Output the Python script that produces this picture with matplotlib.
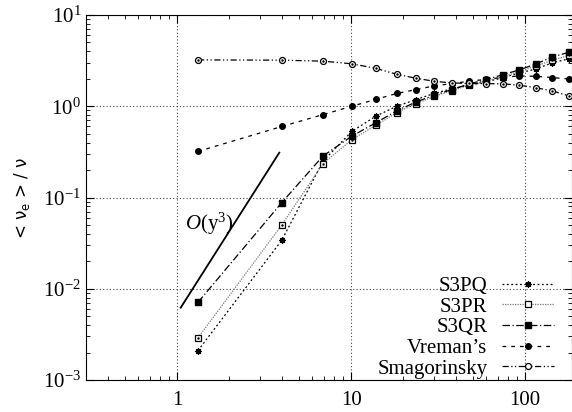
import numpy as np
import matplotlib
matplotlib.use("Agg")
from matplotlib import pyplot as plt
from matplotlib.ticker import LogLocator, NullFormatter

plt.rcParams['font.family'] = ['Liberation Serif', 'DejaVu Serif']
plt.rcParams['mathtext.fontset'] = 'custom'
plt.rcParams['mathtext.rm'] = 'Liberation Serif'
plt.rcParams['mathtext.it'] = 'Liberation Serif:italic'

# wall distance y+ (shared grid)
yplus = [1.32, 4.0, 6.9, 10.1, 13.9, 18.3, 23.5, 30, 37.8, 47.7, 59.4, 74.5, 92.5, 115, 143.6, 178]

s3pq = [0.0021, 0.034, 0.25, 0.53, 0.78, 1.0, 1.18, 1.38, 1.55, 1.70, 1.85, 2.05, 2.32, 2.55, 3.0, 3.3]
s3pr = [0.0029, 0.050, 0.235, 0.43, 0.62, 0.85, 1.07, 1.28, 1.48, 1.70, 1.90, 2.10, 2.40, 2.75, 3.2, 3.6]
s3qr = [0.0071, 0.088, 0.285, 0.47, 0.66, 0.89, 1.11, 1.32, 1.52, 1.76, 1.95, 2.22, 2.50, 2.90, 3.47, 3.9]
vreman = [0.32, 0.60, 0.81, 1.0, 1.19, 1.38, 1.52, 1.67, 1.77, 1.88, 1.97, 2.07, 2.15, 2.13, 2.06, 1.99]
smag = [3.22, 3.20, 3.12, 2.92, 2.60, 2.24, 2.03, 1.88, 1.80, 1.78, 1.77, 1.76, 1.70, 1.60, 1.47, 1.30]

# O(y^3) reference line
ref_x = [1.05, 3.87]
ref_y = [0.0062, 0.31]

fig = plt.figure(figsize=(5.72, 4.12), dpi=100)
ax = fig.add_axes([86 / 572, 32 / 412, 486 / 572, 365 / 412])
ax.set_xscale('log')
ax.set_yscale('log')
ax.set_xlim(0.3, 186)
ax.set_ylim(1e-3, 1e1)

ax.grid(True, which='major', linestyle=(0, (1, 2)), color='#444444', linewidth=0.8)
ax.set_axisbelow(True)

lw = 0.9
ax.plot(yplus, s3pq, color='black', linestyle=(0, (1.5, 2)), linewidth=lw,
        marker=(8, 2, 0), markersize=4.5, markeredgewidth=0.9, label='S3PQ')
ax.plot(yplus, s3pr, color='#777777', linestyle=(0, (1, 1)), linewidth=lw,
        marker='s', markersize=4.3, markerfacecolor='white', markeredgecolor='black',
        markeredgewidth=0.9, label='S3PR')
ax.plot(yplus, s3pr, linestyle='none', marker='.', markersize=1.5, color='black')
ax.plot(yplus, s3qr, color='black', linestyle=(0, (6, 2, 1, 2)), linewidth=lw,
        marker='s', markersize=4.6, label='S3QR')
ax.plot(yplus, vreman, color='black', linestyle=(0, (3, 4)), linewidth=lw,
        marker='o', markersize=4, label="Vreman\u2019s")
ax.plot(yplus, smag, color='black', linestyle=(0, (5, 2, 1, 2, 1, 2)), linewidth=lw,
        marker='o', markersize=4.3, markerfacecolor='white', markeredgecolor='black',
        markeredgewidth=0.9, label='Smagorinsky')
ax.plot(yplus, smag, linestyle='none', marker='.', markersize=1.5, color='black')

ax.plot(ref_x, ref_y, color='black', linewidth=1.3)
ax.text(1.11, 0.052, r'$\mathit{O}(\mathrm{y}^3)$', fontsize=15, va='center', ha='left')

ax.set_ylabel(r'< $\mathregular{\nu_e}$ > / $\mathregular{\nu}$', family='DejaVu Sans',
              fontsize=12, labelpad=8)

ax.xaxis.set_major_locator(LogLocator(base=10))
ax.xaxis.set_minor_locator(LogLocator(base=10, subs=np.arange(2, 10)))
ax.xaxis.set_minor_formatter(NullFormatter())
ax.yaxis.set_minor_locator(LogLocator(base=10, subs=np.arange(2, 10)))
ax.yaxis.set_minor_formatter(NullFormatter())
ax.set_xticks([1, 10, 100])
ax.set_xticklabels(['1', '10', '100'])
ax.tick_params(which='both', direction='in', top=True, right=True, labelsize=15)
ax.tick_params(which='major', length=6)
ax.tick_params(which='minor', length=3)
ax.tick_params(axis='x', pad=8)

ax.legend(loc='lower right', markerfirst=False, frameon=False, fontsize=15,
          handlelength=2.5, handletextpad=0.7, labelspacing=0.05,
          borderaxespad=0.3, bbox_to_anchor=(0.993, -0.036))

fig.savefig('out.png', dpi=100)
